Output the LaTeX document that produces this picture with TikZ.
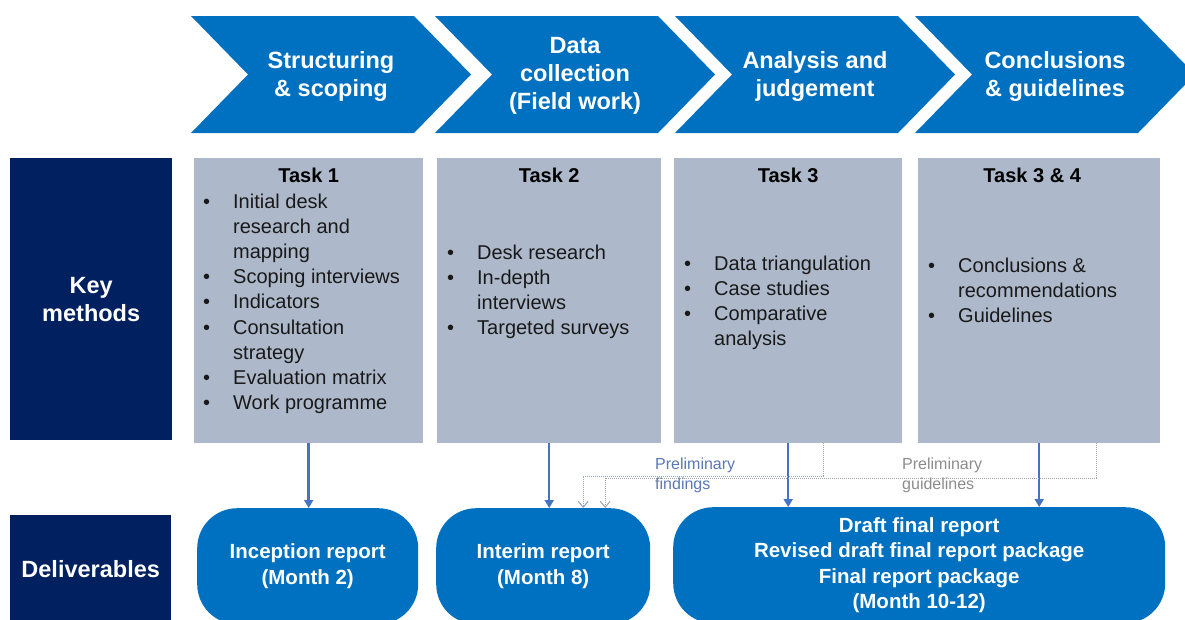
\documentclass[tikz,border=0pt]{standalone}
\usepackage{fontspec}
\setmainfont{Liberation Sans}
\usepackage{tikz}
\usetikzlibrary{arrows.meta,calc,positioning}
\definecolor{chev}{HTML}{0070C0}
\definecolor{navy}{HTML}{002060}
\definecolor{taskgray}{HTML}{ADB9CA}
\definecolor{arrowblue}{HTML}{4472C4}
\definecolor{findblue}{HTML}{5A78B4}
\definecolor{findline}{HTML}{8FA6CF}
\definecolor{guidegray}{HTML}{8C8C8C}
\newcommand{\itm}{\makebox[30pt][l]{\textbullet}}
\newcommand{\cnt}{\hspace*{30pt}}

\begin{document}
\begin{tikzpicture}[x=1pt,y=-1pt,
  chevtext/.style={text=white,font=\fontsize{23.5}{28}\selectfont\bfseries,align=center},
  sidebox/.style={fill=navy,text=white,font=\fontsize{23.5}{28}\selectfont\bfseries,align=center,inner sep=0pt,anchor=north west},
  taskbox/.style={fill=taskgray,minimum height=285pt,inner sep=0pt,anchor=north west},
  head/.style={font=\fontsize{20}{25}\selectfont\bfseries,anchor=base,inner sep=0pt},
  items/.style={font=\fontsize{20}{25.2}\selectfont,text=black!90,align=left,anchor=base west,inner sep=0pt},
  deliv/.style={fill=chev,rounded corners=40pt,minimum height=116pt,anchor=north west,text=white,font=\fontsize{20.5}{25.2}\selectfont\bfseries,align=center,inner sep=0pt},
  flow/.style={arrowblue,line width=2.5pt,-{Triangle[length=8pt,width=9pt]}},
  prelim/.style={densely dotted,line width=1pt,-{Straight Barb[length=6pt,width=10pt]}},
  note/.style={font=\fontsize{16}{20}\selectfont,align=left,anchor=base west,inner sep=0pt}]
  \useasboundingbox (0,0) rectangle (1185,619);
  \clip (0,0) rectangle (1185,619);

  % phase chevrons
  \foreach \x/\nm/\txt in {191/c1/Structuring\\\& scoping, 435/c2/Data\\collection\\(Field work), 675/c3/Analysis and\\judgement, 915/c4/Conclusions\\\& guidelines} {
    \fill[chev] (\x,16) -- ++(223,0) -- ++(57,58.5) -- ++(-57,58.5) -- ++(-223,0) -- ++(57,-58.5) -- cycle;
    \node[chevtext] (\nm) at (\x+140,76) {\txt};
  }

  % row labels
  \node[sidebox,minimum width=162pt,minimum height=282pt] (km) at (10,158) {Key\\methods};
  \node[sidebox,minimum width=161pt,minimum height=108pt] (dl) at (10,515) {Deliverables};

  % task boxes (lists sit on the baseline of their last line)
  \foreach \nm/\x/\w in {t1/194/229, t2/437/224, t3/674/228, t4/918/242}
    \node[taskbox,minimum width={\w pt}] (\nm) at (\x,158) {};
  \node[head] (h1) at ($(t1.north)+(0,24)$) {Task 1};
  \node[head] (h2) at ($(t2.north)+(0,24)$) {Task 2};
  \node[head] (h3) at ($(t3.north)+(0,24)$) {Task 3};
  \node[head] (h4) at ($(t4.north)+(-7,24)$) {Task 3 \& 4};

  \node[items] (l1) at (203,409.6) {\itm Initial desk\\\cnt research and\\\cnt mapping\\\itm Scoping interviews\\\itm Indicators\\\itm Consultation\\\cnt strategy\\\itm Evaluation matrix\\\itm Work programme};
  \node[items] (l2) at (447,334.6) {\itm Desk research\\\itm In-depth\\\cnt interviews\\\itm Targeted surveys};
  \node[items] (l3) at (684,345.6) {\itm Data triangulation\\\itm Case studies\\\itm Comparative\\\cnt analysis};
  \node[items] (l4) at (928,322.4) {\itm Conclusions \&\\\cnt recommendations\\\itm Guidelines};

  % deliverables
  \node[deliv,minimum width=221pt] (d1) at (197,508) {Inception report\\(Month 2)};
  \node[deliv,minimum width=214pt] (d2) at (436,508) {Interim report\\(Month 8)};
  \node[deliv,minimum width=492pt] (d3) at (673,507) {Draft final report\\Revised draft final report package\\Final report package\\(Month 10-12)};

  \draw[flow] (t1.south) -- (t1.south |- d1.north);
  \draw[flow] (t2.south) -- (t2.south |- d2.north);
  \draw[flow] (t3.south) -- (t3.south |- d3.north);
  \draw[flow] (t4.south) -- (t4.south |- d3.north);

  % feedback into the interim report
  \draw[prelim,findline] ($(t3.south)+(35,0)$) -- ++(0,33) -| ($(d2.north)+(40,0)$);
  \draw[prelim,guidegray!80] ($(t4.south)+(57,0)$) -- ++(0,35) -| ($(d2.north)+(62,0)$);
  \node[note,text=findblue] (pf) at (655,489) {Preliminary\\findings};
  \node[note,text=guidegray] (pg) at (902,489) {Preliminary\\guidelines};
\end{tikzpicture}
\end{document}
